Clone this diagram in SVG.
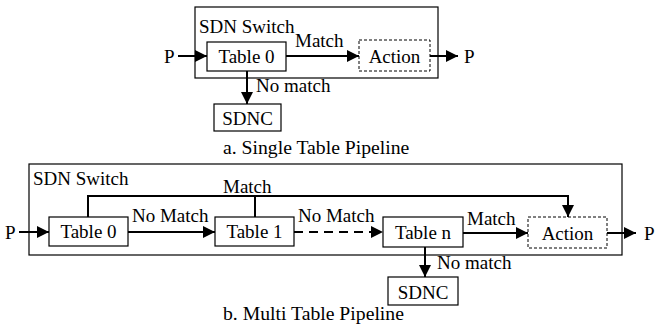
<svg xmlns="http://www.w3.org/2000/svg" width="657" height="326" viewBox="0 0 657 326">
<style>
text{font-family:"Liberation Serif","Times New Roman",serif;font-size:19px;fill:#000}
.cap{font-size:19.7px}
.box{fill:#fff;stroke:#000;stroke-width:1.2}
.sw{fill:none;stroke:#000;stroke-width:1.2}
.dash{fill:#fff;stroke:#000;stroke-width:1;stroke-dasharray:3,2}
.ln{fill:none;stroke:#000;stroke-width:2}
.dl{fill:none;stroke:#000;stroke-width:2;stroke-dasharray:9,6}
</style>
<defs>
<marker id="ah" viewBox="0 0 12 12" refX="12" refY="6" markerWidth="12" markerHeight="12" markerUnits="userSpaceOnUse" orient="auto">
<path d="M0,0 L12,6 L0,12 Z" fill="#000"/>
</marker>
</defs>
<rect x="0" y="0" width="657" height="326" fill="#fff"/>

<!-- (a) single table -->
<g id="switchA"><rect class="sw" x="195" y="7" width="243" height="71"/><text x="199" y="33">SDN Switch</text></g>
<g id="table0A"><rect class="box" x="207" y="42" width="79" height="29"/><text x="246.5" y="63" text-anchor="middle">Table 0</text></g>
<g id="actionA"><rect class="dash" x="359" y="40" width="71" height="31"/><text x="394.5" y="63" text-anchor="middle">Action</text></g>
<g id="sdncA"><rect class="box" x="214" y="104" width="67" height="27"/><text x="247.5" y="125" text-anchor="middle">SDNC</text></g>
<g id="pinA"><text x="164" y="63">P</text></g>
<g id="poutA"><text x="464" y="63">P</text></g>

<!-- (b) multi table -->
<g id="switchB"><rect class="sw" x="29" y="164" width="593" height="91"/><text x="33" y="185">SDN Switch</text></g>
<g id="table0B"><rect class="box" x="49" y="217" width="79" height="29"/><text x="88.5" y="238" text-anchor="middle">Table 0</text></g>
<g id="table1B"><rect class="box" x="215" y="217" width="79" height="29"/><text x="254.5" y="238" text-anchor="middle">Table 1</text></g>
<g id="tablenB"><rect class="box" x="383" y="217" width="80" height="30"/><text x="423" y="239" text-anchor="middle">Table n</text></g>
<g id="actionB"><rect class="dash" x="528" y="217" width="79" height="31"/><text x="567.5" y="240" text-anchor="middle">Action</text></g>
<g id="sdncB"><rect class="box" x="388" y="277" width="70" height="28"/><text x="423" y="299" text-anchor="middle">SDNC</text></g>
<g id="pinB"><text x="5" y="239">P</text></g>
<g id="poutB"><text x="644" y="240">P</text></g>

<g id="connectors">
<line class="ln" x1="178" y1="56" x2="207" y2="56" marker-end="url(#ah)"/>
<line class="ln" x1="286" y1="56" x2="359" y2="56" marker-end="url(#ah)"/>
<line class="ln" x1="430" y1="56" x2="458" y2="56" marker-end="url(#ah)"/>
<line class="ln" x1="247" y1="71" x2="247" y2="104" marker-end="url(#ah)"/>

<line class="ln" x1="19" y1="232" x2="49" y2="232" marker-end="url(#ah)"/>
<line class="ln" x1="128" y1="232" x2="215" y2="232" marker-end="url(#ah)"/>
<line class="dl" x1="294" y1="232" x2="383" y2="232" marker-end="url(#ah)"/>
<line class="ln" x1="463" y1="233" x2="528" y2="233" marker-end="url(#ah)"/>
<line class="ln" x1="607" y1="233" x2="636" y2="233" marker-end="url(#ah)"/>
<polyline class="ln" points="88,217 88,196 568,196 568,217" marker-end="url(#ah)"/>
<line class="ln" x1="255" y1="196" x2="255" y2="217"/>
<line class="ln" x1="425" y1="247" x2="425" y2="277" marker-end="url(#ah)"/>
</g>

<g id="labels">
<text x="295" y="47">Match</text>
<text x="256" y="92">No match</text>
<text class="cap" x="223" y="154">a. Single Table Pipeline</text>
<text x="223" y="193">Match</text>
<text x="132" y="222">No Match</text>
<text x="298" y="222">No Match</text>
<text x="467" y="225">Match</text>
<text x="437" y="269">No match</text>
<text class="cap" x="223" y="320">b. Multi Table Pipeline</text>
</g>
</svg>
